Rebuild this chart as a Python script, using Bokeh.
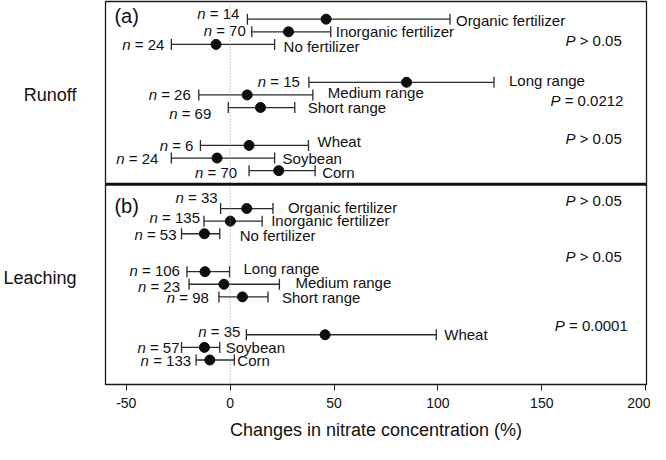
import math
from bokeh.plotting import figure
from bokeh.models import Range1d, FixedTicker, ColumnDataSource, Span
from bokeh.core.properties import value
from bokeh.embed import file_html
from bokeh.resources import INLINE

# ---------------- data ----------------
panels = ["Runoff", "Leaching"]
panel_tags = ["(a)", "(b)"]
categories = ["Organic fertilizer", "Inorganic fertilizer", "No fertilizer",
              "Long range", "Medium range", "Short range",
              "Wheat", "Soybean", "Corn"]

runoff_mean = [46.2, 28.1, -6.8, 84.9, 8.2, 14.6, 9.1, -6.3, 23.4]
runoff_lo = [8.3, 10.4, -28.3, 37.9, -15.1, -0.9, -14.3, -28.3, 9.1]
runoff_hi = [105.8, 48.4, 21.4, 127.0, 39.8, 31.1, 37.7, 21.4, 40.9]
runoff_n = [14, 70, 24, 15, 26, 69, 6, 24, 70]
runoff_p = ["> 0.05", "= 0.0212", "> 0.05"]

leach_mean = [8.0, 0.1, -12.4, -12.1, -3.0, 5.9, 45.7, -12.4, -9.8]
leach_lo = [-4.6, -12.6, -23.4, -20.8, -19.8, -5.4, 7.8, -23.4, -16.4]
leach_hi = [20.6, 15.4, -5.0, -0.3, 23.7, 18.2, 99.2, -5.0, 2.0]
leach_n = [33, 135, 53, 106, 23, 98, 35, 57, 133]
leach_p = ["> 0.05", "> 0.05", "= 0.0001"]

tick_values = [-50, 0, 50, 100, 150, 200]
tick_labels = ["-50", "0", "50", "100", "150", "200"]
x_title = "Changes in nitrate concentration (%)"

# ---------------- layout (label nudges, px) ----------------
cat_dx = [[6, 5, 9, 15, 15, 13, 9, 8, 7], [15, 9, 20, 14, 16, 14, 8, 6, 3]]
cat_dy = [[1, 0, 2, -2, -2, 0, -4, 0, 2], [-1, -1, 2, -3, -2, 1, 0, 0, 0]]
n_dx = [[-8, -6, -7, -9, -8, -17, -7, -13, -12], [-3, -4, -5, -7, -9, -10, -6, -2, -5]]
n_dy = [[-6, -1, 0, -1, 0, 6, 0, 0, 2], [-11, -4, 1, -1, 2, 1, -3, 0, 0]]
p_rows = [[1.68, 6.44, 9.45], [14.36, 18.8, 24.23]]
p_xpos = [[188.5, 189.3, 188.5], [188.5, 188.5, 191.4]]
tag_rows = [-0.26, 14.8]
tag_x = -55.7
panel_label_rows = [6.0, 20.5]
divider_row = 13.08

FONT = "Liberation Sans"
FS = 15
TXT = "#111111"
LINE = "#2a2a2a"
NB = "\u00a0"

W = {c: 0.556 for c in "0123456789"}
W.update({NB: 0.278, " ": 0.278, "=": 0.584, ">": 0.584, ".": 0.278})


def text_width(s, size):
    return sum(W.get(c, 0.556) for c in s) * size


means = [runoff_mean, leach_mean]
los = [runoff_lo, leach_lo]
his = [runoff_hi, leach_hi]
ns = [runoff_n, leach_n]
ps = [runoff_p, leach_p]

rows = {k: [] for k in ["y", "mean", "lo", "hi", "cat", "cdx", "cdy",
                        "nrest", "ndx", "ndy", "nitdx"]}
for pi_, _ in enumerate(panels):
    for i, cat in enumerate(categories):
        rows["y"].append(pi_ * 15 + (i // 3) * 5 + i % 3)
        rows["mean"].append(means[pi_][i])
        rows["lo"].append(los[pi_][i])
        rows["hi"].append(his[pi_][i])
        rows["cat"].append(cat)
        rows["cdx"].append(cat_dx[pi_][i])
        rows["cdy"].append(cat_dy[pi_][i])
        rest = NB + "=" + NB + str(ns[pi_][i])
        rows["nrest"].append(rest)
        rows["ndx"].append(n_dx[pi_][i])
        rows["ndy"].append(n_dy[pi_][i])
        rows["nitdx"].append(n_dx[pi_][i] - text_width(rest, FS))
src = ColumnDataSource(rows)

pdata = {"x": [], "y": [], "rest": [], "pdx": []}
for pi_ in range(2):
    for g in range(3):
        rest = NB + ps[pi_][g].replace(" ", NB)
        pdata["x"].append(p_xpos[pi_][g])
        pdata["y"].append(p_rows[pi_][g])
        pdata["rest"].append(rest)
        pdata["pdx"].append(-text_width(rest, FS))
psrc = ColumnDataSource(pdata)

p = figure(width=650, height=444,
           x_range=Range1d(-60, 200.4), y_range=Range1d(28.94, -1.4),
           output_backend="svg", toolbar_location=None,
           min_border_left=96, min_border_right=4,
           min_border_top=1, min_border_bottom=60)
p.grid.visible = False
p.outline_line_color = "#1a1a1a"
p.outline_line_width = 1.3
p.background_fill_color = "white"
p.border_fill_color = "white"

# x axis
xa = p.xaxis[0]
xa.ticker = FixedTicker(ticks=tick_values)
xa.major_label_overrides = {v: l for v, l in zip(tick_values, tick_labels)}
xa.major_tick_out = 6
xa.major_tick_in = 0
xa.minor_tick_line_color = None
xa.axis_line_color = "#1a1a1a"
xa.major_tick_line_color = "#1a1a1a"
xa.major_label_text_font = FONT
xa.major_label_text_font_size = "14px"
xa.major_label_text_color = TXT
xa.major_label_standoff = 7
xa.axis_label = x_title
xa.axis_label_text_font = FONT
xa.axis_label_text_font_size = "18px"
xa.axis_label_text_font_style = "normal"
xa.axis_label_text_color = TXT
xa.axis_label_standoff = 9

# y axis used for the panel names
ya = p.yaxis[0]
ya.ticker = FixedTicker(ticks=panel_label_rows)
ya.major_label_overrides = {v: l for v, l in zip(panel_label_rows, panels)}
ya.major_tick_line_color = None
ya.minor_tick_line_color = None
ya.axis_line_color = None
ya.major_label_text_font = FONT
ya.major_label_text_font_size = "18px"
ya.major_label_text_color = TXT
ya.major_label_standoff = 23

# zero line and divider
p.add_layout(Span(location=0, dimension="height", line_color="#999999",
                  line_width=1, line_dash="1 2"))
p.add_layout(Span(location=divider_row, dimension="width", line_color="#111111",
                  line_width=3))

# error bars
p.segment(x0="lo", x1="hi", y0="y", y1="y", source=src, line_color=LINE, line_width=1.3)
p.scatter(x="lo", y="y", source=src, marker="dash", angle=math.pi / 2, size=11,
          line_color=LINE, line_width=1.3)
p.scatter(x="hi", y="y", source=src, marker="dash", angle=math.pi / 2, size=11,
          line_color=LINE, line_width=1.3)
p.scatter(x="mean", y="y", source=src, marker="circle", size=10,
          fill_color="#0d0d0d", line_color="#0d0d0d")

# labels
common = dict(text_font=value(FONT), text_font_size=value("%dpx" % FS), text_color=TXT,
              text_baseline="middle")
p.text(x="hi", y="y", text="cat", x_offset="cdx", y_offset="cdy", source=src,
       text_align="left", **common)
p.text(x="lo", y="y", text="nrest", x_offset="ndx", y_offset="ndy", source=src,
       text_align="right", **common)
p.text(x="lo", y="y", text=value("n"), x_offset="nitdx", y_offset="ndy", source=src,
       text_align="right", text_font_style="italic", **common)
p.text(x="x", y="y", text="rest", source=psrc, text_align="right", **common)
p.text(x="x", y="y", text=value("P"), x_offset="pdx", source=psrc, text_align="right",
       text_font_style="italic", **common)

tsrc = ColumnDataSource(dict(x=[tag_x, tag_x], y=tag_rows, t=panel_tags))
p.text(x="x", y="y", text="t", source=tsrc, text_align="left", text_baseline="middle",
       text_font=value(FONT), text_font_size=value("20px"), text_color=TXT)

open("out.html", "w").write(file_html(p, INLINE))
